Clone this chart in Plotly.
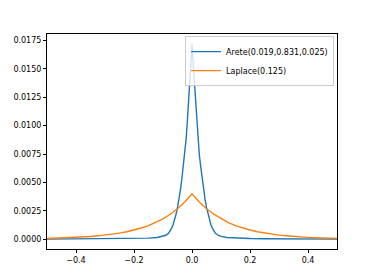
import plotly.graph_objects as go

# Arete(0.019,0.831,0.025) series
arete_x = [-0.5, -0.4, -0.3, -0.25, -0.2, -0.15, -0.12, -0.1, -0.09, -0.08, -0.075, -0.07,
           -0.065, -0.06, -0.055, -0.05, -0.045, -0.04, -0.035, -0.03, -0.025, -0.02,
           -0.015, -0.01, -0.005, 0.0, 0.005, 0.01, 0.015, 0.02, 0.025, 0.03, 0.035, 0.04,
           0.045, 0.05, 0.055, 0.06, 0.065, 0.07, 0.075, 0.08, 0.09, 0.1, 0.12, 0.15, 0.2,
           0.25, 0.3, 0.4, 0.5]
arete_y = [0.00001, 0.00002, 0.00003, 0.00004, 0.00006, 0.0001, 0.00015, 0.00025, 0.00035,
           0.00055, 0.00074, 0.00098, 0.0013, 0.0017, 0.0022, 0.0028, 0.0035, 0.0043, 0.0053,
           0.0064, 0.0075, 0.0089, 0.0108, 0.0131, 0.0151, 0.01715, 0.0151, 0.0131, 0.0108,
           0.0089, 0.0075, 0.0064, 0.0053, 0.0043, 0.0035, 0.0028, 0.0022, 0.0017, 0.0013,
           0.00098, 0.00074, 0.00055, 0.00035, 0.00025, 0.00015, 0.0001, 0.00006, 0.00004,
           0.00003, 0.00002, 0.00001]

# Laplace(0.125) series
laplace_x = [-0.5, -0.475, -0.45, -0.425, -0.4, -0.375, -0.35, -0.325, -0.3, -0.275, -0.25,
             -0.225, -0.2, -0.175, -0.15, -0.125, -0.1, -0.075, -0.05, -0.025, 0.0, 0.025,
             0.05, 0.075, 0.1, 0.125, 0.15, 0.175, 0.2, 0.225, 0.25, 0.275, 0.3, 0.325, 0.35,
             0.375, 0.4, 0.425, 0.45, 0.475, 0.5]
laplace_y = [0.00007, 0.00009, 0.00011, 0.00013, 0.00016, 0.00020, 0.00024, 0.00030, 0.00036,
             0.00044, 0.00054, 0.00066, 0.00081, 0.00099, 0.00120, 0.00147, 0.00180, 0.00220,
             0.00268, 0.00327, 0.0040, 0.00327, 0.00268, 0.00220, 0.00180, 0.00147, 0.00120,
             0.00099, 0.00081, 0.00066, 0.00054, 0.00044, 0.00036, 0.00030, 0.00024, 0.00020,
             0.00016, 0.00013, 0.00011, 0.00009, 0.00007]

series_names = ["Arete(0.019,0.831,0.025)", "Laplace(0.125)"]
x_ticks = [-0.4, -0.2, 0.0, 0.2, 0.4]
y_ticks = [0.0, 0.0025, 0.005, 0.0075, 0.01, 0.0125, 0.015, 0.0175]

fig = go.Figure()
fig.add_trace(go.Scatter(x=arete_x, y=arete_y, mode="lines", name=series_names[0],
                         line=dict(color="#1f77b4", width=1.4)))
fig.add_trace(go.Scatter(x=laplace_x, y=laplace_y, mode="lines", name=series_names[1],
                         line=dict(color="#ff7f0e", width=1.4)))

axis_common = dict(showline=True, linecolor="black", linewidth=1, mirror=True,
                   ticks="outside", ticklen=3, tickwidth=1, tickcolor="black",
                   showgrid=False, zeroline=False, automargin=False,
                   tickfont=dict(family="DejaVu Sans", size=8, color="black"))

fig.update_layout(
    width=374, height=280,
    margin=dict(l=47, r=37, t=34, b=31, autoexpand=False),
    paper_bgcolor="white", plot_bgcolor="white",
    font=dict(family="DejaVu Sans", size=8, color="black"),
    xaxis=dict(range=[-0.5, 0.5], tickvals=x_ticks, tickformat=".1f", **axis_common),
    yaxis=dict(range=[-0.00086, 0.01806], tickvals=y_ticks, tickformat=".4f", **axis_common),
    legend=dict(x=0.99, y=0.99, xanchor="right", yanchor="top",
                bgcolor="rgba(255,255,255,0.8)", bordercolor="#cccccc", borderwidth=1,
                font=dict(family="DejaVu Sans", size=8, color="black"),
                itemwidth=30, tracegroupgap=0),
)

fig.write_html("out.html",
               config={"displayModeBar": False},
               post_script="document.body.style.margin='0';document.body.style.overflow='hidden';")
